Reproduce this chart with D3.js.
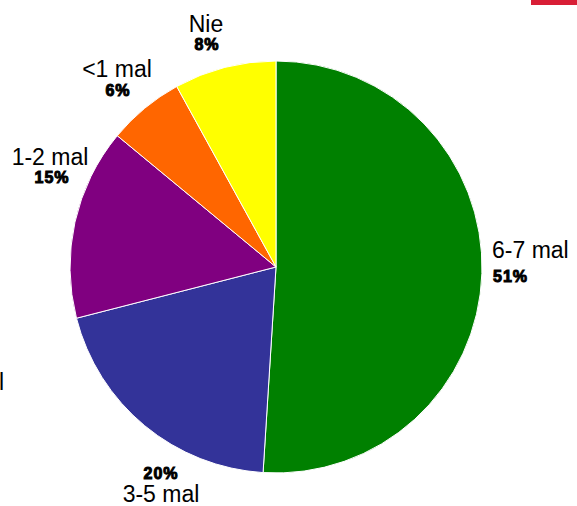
<!DOCTYPE html>
<html>
<head>
<meta charset="utf-8">
<script src="https://cdn.jsdelivr.net/npm/d3@7"></script>
<style>
  html, body { margin: 0; padding: 0; background: #fff; }
  svg { display: block; }
</style>
</head>
<body>
<svg id="chart" width="577" height="506"></svg>
<script>
// Frequency categories, shares (%) and slice colours, clockwise from 12 o'clock
const categories = ["6-7 mal", "3-5 mal", "1-2 mal", "<1 mal", "Nie"];
const shares = [51, 20, 15, 6, 8];
const colors = ["#008000", "#333399", "#800080", "#ff6600", "#ffff00"];

// Label placement per slice: name baseline, anchor, percentage offset
const labelPos = [
  { x: 492, y: 258, anchor: "start", pctDy: 24, pctDx: 1 },
  { x: 161, y: 502, anchor: "middle", pctDy: -23, pctDx: 0 },
  { x: 50, y: 165, anchor: "middle", pctDy: 18, pctDx: 2 },
  { x: 117, y: 77, anchor: "middle", pctDy: 19, pctDx: 1 },
  { x: 206, y: 32, anchor: "middle", pctDy: 18, pctDx: 1 }
];

const svg = d3.select("#chart");
const cx = 276, cy = 267, r = 206;

const data = categories.map((c, i) => ({ cat: c, value: shares[i], color: colors[i], pos: labelPos[i] }));

const pie = d3.pie().value(d => d.value).sort(null);
const arc = d3.arc().innerRadius(0).outerRadius(r);

const g = svg.append("g").attr("transform", `translate(${cx},${cy})`);
g.selectAll("path")
  .data(pie(data))
  .join("path")
  .attr("d", arc)
  .attr("fill", d => d.data.color)
  .attr("stroke", "#ffffff")
  .attr("stroke-width", 1);

// Labels: category name and bold percentage
const labels = svg.append("g");
data.forEach(d => {
  const p = d.pos;
  labels.append("text")
    .attr("x", p.x)
    .attr("y", p.y)
    .attr("text-anchor", p.anchor)
    .attr("font-family", "Liberation Sans, Arial, sans-serif")
    .attr("font-size", 23)
    .attr("fill", "#000")
    .text(d.cat);
  labels.append("text")
    .attr("x", p.x + p.pctDx)
    .attr("y", p.y + p.pctDy)
    .attr("text-anchor", p.anchor)
    .attr("font-family", "Liberation Sans, Arial, sans-serif")
    .attr("font-weight", "bold")
    .attr("font-size", 16)
    .attr("letter-spacing", 1)
    .attr("stroke", "#000")
    .attr("stroke-width", 1)
    .attr("fill", "#000")
    .text(d.value + "%");
});

// Partial label at the left edge and accent bar in the top-right corner
svg.append("text")
  .attr("x", -1)
  .attr("y", 390)
  .attr("font-family", "Liberation Sans, Arial, sans-serif")
  .attr("font-size", 23)
  .attr("fill", "#000")
  .text("l");

svg.append("rect")
  .attr("x", 531)
  .attr("y", 0)
  .attr("width", 46)
  .attr("height", 5)
  .attr("fill", "#d81e36");
</script>
</body>
</html>
